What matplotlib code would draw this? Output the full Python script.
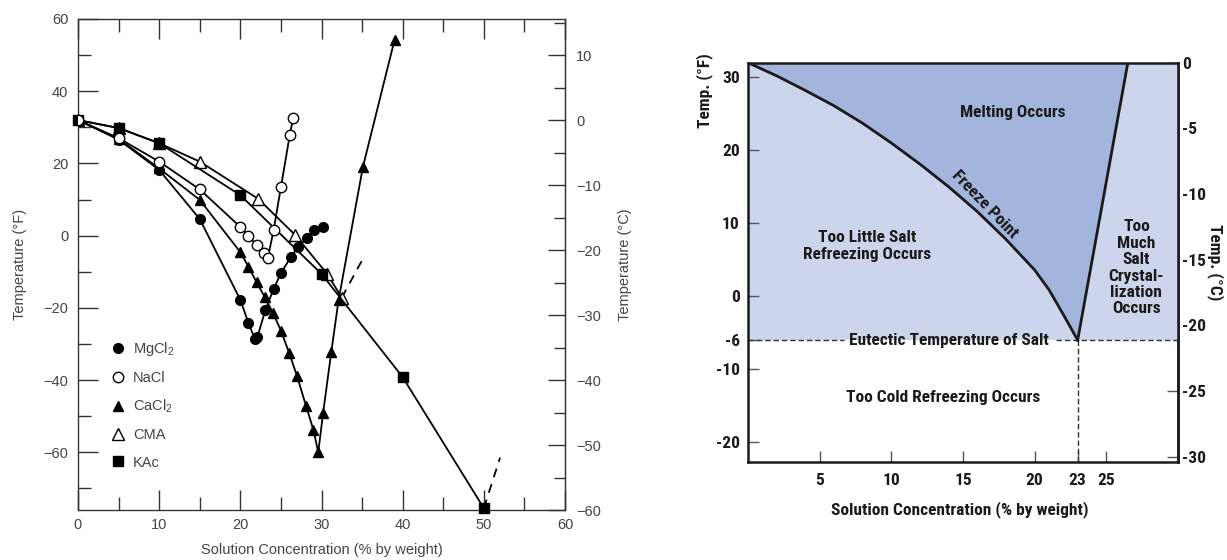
import numpy as np
import matplotlib
matplotlib.use("Agg")
import matplotlib.pyplot as plt
import matplotlib.font_manager as fm
from matplotlib.lines import Line2D
from matplotlib.ticker import MultipleLocator, FixedLocator

plt.rcParams['mathtext.default'] = 'regular'

# ---------------- Left panel data (Temperature in F vs concentration %) ----------------
mgcl2_x = [0, 5, 10, 15, 20, 21, 21.8, 22.1, 23.1, 24.1, 25, 26.2, 27.1, 28.2, 29.1, 30.2]
mgcl2_y = [32, 26.6, 18.2, 4.6, -17.8, -24.2, -28.7, -28.1, -20.5, -14.8, -10.4, -6.0, -3.2, -0.7, 1.6, 2.3]
nacl_x = [0, 5, 10, 15, 20, 21, 22, 22.9, 23.4, 24.1, 25, 26.1, 26.5]
nacl_y = [32, 27.0, 20.5, 12.8, 2.4, 0.0, -2.6, -4.9, -6.1, 1.5, 13.4, 28.0, 32.5]
cacl2_x = [0, 5, 10, 15, 20, 21, 22, 23, 24, 25, 26, 27, 28.1, 29, 29.6, 30.2, 31.2, 32.1, 35.1, 39]
cacl2_y = [32, 26.8, 18.6, 9.9, -4.6, -8.6, -12.9, -17.0, -21.3, -26.3, -32.4, -39.0, -47.2, -53.8, -60,
           -49.1, -32.3, -17.9, 19.0, 54.2]
cma_x = [0, 5, 10, 15, 22.2, 26.7, 30.7, 32.5]
cma_y = [32, 29.8, 25.6, 20.5, 10.2, 0.3, -10.6, -17.2]
kac_x = [0, 5, 10, 20, 30, 40, 50]
kac_y = [32, 29.8, 25.6, 11.2, -10.6, -39.2, -75.5]
cma_ext_x = [32.5, 35.1]
cma_ext_y = [-17.2, -6.4]
kac_ext_x = [50, 52]
kac_ext_y = [-75.5, -61.5]
legend_labels = ['MgCl$_2$', 'NaCl', 'CaCl$_2$', 'CMA', 'KAc']
l_c_major = [10, 0, -10, -20, -30, -40, -50, -60]
l_c_minor = [15, 5, -5, -15, -25, -35, -45, -55]

# ---------------- Right panel data ----------------
freeze_x = [0, 2, 4, 6, 8, 10, 12, 14, 16, 18, 20, 21, 22, 23]
freeze_y = [32, 30.2, 28.2, 26.1, 23.7, 21.0, 18.1, 15.0, 11.6, 7.8, 3.6, 0.9, -2.5, -6]
salt_x = [23, 26.5]
salt_y = [-6, 32]
eutectic_temp = -6
eutectic_conc = 23
r_xticks = [5, 10, 15, 20, 23, 25]
r_yticks_f = [30, 20, 10, 0, -6, -10, -20]
r_yticks_c = [0, -5, -10, -15, -20, -25, -30]


def f2c(f):
    return (np.asarray(f) - 32.0) * 5.0 / 9.0


def c2f(c):
    return np.asarray(c) * 9.0 / 5.0 + 32.0


avail = {f.name for f in fm.fontManager.ttflist}
narrow = next((n for n in ['Liberation Sans Narrow', 'Arial Narrow', 'Roboto Condensed',
                           'Open Sans Condensed', 'Nimbus Sans Narrow'] if n in avail), None)
if narrow:
    bfont = [narrow, 'DejaVu Sans']
    bsize = 12.5
else:
    bfont = ['Liberation Sans', 'DejaVu Sans']
    bsize = 10.8

W, H = 1227, 560
fig = plt.figure(figsize=(W / 100, H / 100), dpi=100)

# ======================= LEFT PANEL =======================
gray = '#444444'
lfont = ['Liberation Sans', 'DejaVu Sans']
ax1 = fig.add_axes([78 / W, 1 - 510 / H, 487 / W, 491 / H])
ax1.set_xlim(0, 60)
ax1.set_ylim(-76, 60)
for s in ax1.spines.values():
    s.set_color('#333333')
    s.set_linewidth(1.0)

lw = 1.3
ax1.plot(cma_x, cma_y, '-', color='k', lw=lw, marker='^', ms=8, mfc='white', mec='k', mew=1.0, zorder=3)
ax1.plot(kac_x, kac_y, '-', color='k', lw=lw, marker='s', ms=6.5, mfc='k', mec='k', zorder=4, clip_on=False)
ax1.plot(cacl2_x, cacl2_y, '-', color='k', lw=lw, marker='^', ms=7, mfc='k', mec='k', zorder=3)
ax1.plot(nacl_x, nacl_y, '-', color='k', lw=lw, marker='o', ms=7.5, mfc='white', mec='k', mew=1.0, zorder=5)
ax1.plot(mgcl2_x, mgcl2_y, '-', color='k', lw=lw, marker='o', ms=7, mfc='k', mec='k', zorder=4)
ax1.plot(cma_ext_x, cma_ext_y, '--', color='k', lw=lw, dashes=(5, 4), zorder=2)
ax1.plot(kac_ext_x, kac_ext_y, '--', color='k', lw=lw, dashes=(5, 4), zorder=2, clip_on=False)

ax1.xaxis.set_major_locator(MultipleLocator(10))
ax1.xaxis.set_minor_locator(MultipleLocator(5))
ax1.yaxis.set_major_locator(MultipleLocator(20))
ax1.yaxis.set_minor_locator(MultipleLocator(10))
ax1.tick_params(which='both', direction='in', top=True, right=False, color='#333333', width=1.0,
                labelcolor=gray, labelsize=10.5)
ax1.tick_params(which='major', length=14.5)
ax1.tick_params(which='minor', length=9.5)
ax1.tick_params(axis='x', pad=6)
ax1.tick_params(axis='y', pad=7)
for t in ax1.get_xticklabels() + ax1.get_yticklabels():
    t.set_family(lfont)

ax1.set_xlabel('Solution Concentration (% by weight)', color=gray, fontsize=10.5, family=lfont)
ax1.xaxis.set_label_coords(0.5, -0.067)
ax1.set_ylabel('Temperature (°F)', color=gray, fontsize=10.5, family=lfont)
ax1.yaxis.set_label_coords(-0.105, 0.5)

sec1 = ax1.secondary_yaxis('right', functions=(f2c, c2f))
sec1.yaxis.set_major_locator(FixedLocator(l_c_major))
sec1.yaxis.set_minor_locator(FixedLocator(l_c_minor))
sec1.tick_params(which='both', direction='in', color='#333333', width=1.0, labelcolor=gray,
                 labelsize=10.5, pad=8)
sec1.tick_params(which='major', length=12)
sec1.tick_params(which='minor', length=8)
sec1.spines['right'].set_color('#333333')
for t in sec1.get_yticklabels():
    t.set_family(lfont)
ax1.text(1.123, 0.5, 'Temperature (°C)', transform=ax1.transAxes, rotation=90, ha='center', va='center',
         color=gray, fontsize=10.5, family=lfont)

handles = [
    Line2D([], [], ls='none', marker='o', ms=7, mfc='k', mec='k'),
    Line2D([], [], ls='none', marker='o', ms=7.5, mfc='white', mec='k'),
    Line2D([], [], ls='none', marker='^', ms=7, mfc='k', mec='k'),
    Line2D([], [], ls='none', marker='^', ms=8, mfc='white', mec='k'),
    Line2D([], [], ls='none', marker='s', ms=6.5, mfc='k', mec='k'),
]
leg = ax1.legend(handles, legend_labels, loc='upper left', bbox_to_anchor=(0.071, 0.347), frameon=False,
                 handlelength=0.8, handletextpad=0.6, labelspacing=0.9, borderpad=0, borderaxespad=0,
                 prop={'family': lfont, 'size': 10.5})
for t in leg.get_texts():
    t.set_color(gray)

# ======================= RIGHT PANEL =======================
light = '#cdd5ec'
dark = '#a3b5dc'
ink = '#1a1a1a'
ax2 = fig.add_axes([748 / W, 1 - 462 / H, 430 / W, 399.3 / H])
ax2.set_xlim(0, 30)
ax2.set_ylim(-22.7, 32)

ax2.fill_between([0, 30], eutectic_temp, 32, color=light, lw=0, zorder=1)
ax2.fill(list(freeze_x) + [salt_x[1]], list(freeze_y) + [salt_y[1]], color=dark, lw=0, zorder=2)
ax2.plot(freeze_x, freeze_y, color=ink, lw=2.0, zorder=4, solid_joinstyle='round')
ax2.plot(salt_x, salt_y, color=ink, lw=2.0, zorder=4)
ax2.plot([eutectic_conc, eutectic_conc], [eutectic_temp, -22.7], color='#333333', lw=1.0,
         ls=(0, (4, 2)), zorder=3)

tk = dict(family=bfont, weight='bold', color=ink)
ax2.text(18.5, 25.2, 'Melting Occurs', ha='center', va='center', zorder=5, fontsize=bsize, **tk)
ax2.text(8.3, 6.9, 'Too Little Salt\nRefreezing Occurs', ha='center', va='center', zorder=5,
         linespacing=1.15, fontsize=bsize, **tk)
ax2.text(16.5, 12.6, 'Freeze Point', ha='center', va='center', rotation=-46, rotation_mode='anchor',
         zorder=5, fontsize=bsize, **tk)
ax2.text(27.1, 3.9, 'Too\nMuch\nSalt\nCrystal-\nlization\nOccurs', ha='center', va='center', zorder=5,
         linespacing=1.12, fontsize=bsize, **tk)
eut_txt = ax2.text(14.0, eutectic_temp, 'Eutectic Temperature of Salt', ha='center', va='center', zorder=5,
                   fontsize=bsize, **tk)
ax2.text(13.6, -13.9, 'Too Cold Refreezing Occurs', ha='center', va='center', zorder=5,
         fontsize=bsize, **tk)

for s in ax2.spines.values():
    s.set_color(ink)
    s.set_linewidth(1.8)
    s.set_zorder(6)

ax2.xaxis.set_major_locator(FixedLocator(r_xticks))
ax2.set_xticklabels([str(v) for v in r_xticks])
ax2.yaxis.set_major_locator(FixedLocator(r_yticks_f))
ax2.set_yticklabels([str(v) for v in r_yticks_f])
ax2.tick_params(direction='in', length=8, width=1.0, color='#555555', labelsize=bsize, right=False, top=False)
ax2.tick_params(axis='x', pad=8)
ax2.tick_params(axis='y', pad=6)
for t in ax2.get_xticklabels() + ax2.get_yticklabels():
    t.set_family(bfont)
    t.set_weight('bold')
    t.set_color(ink)

ax2.set_xlabel('Solution Concentration (% by weight)', fontsize=bsize, **tk)
ax2.xaxis.set_label_coords(0.493, -0.098)
ax2.set_ylabel('Temp. (°F)', fontsize=bsize, **tk)
ax2.yaxis.set_label_coords(-0.081, 0.93)

sec2 = ax2.secondary_yaxis('right', functions=(f2c, c2f))
sec2.set_yticks(r_yticks_c, [str(v) for v in r_yticks_c])
sec2.tick_params(direction='in', length=8, width=1.0, color='#555555', labelsize=bsize, pad=3)
sec2.spines['right'].set_color(ink)
sec2.spines['right'].set_linewidth(1.8)
for t in sec2.get_yticklabels():
    t.set_family(bfont)
    t.set_weight('bold')
    t.set_color(ink)
ax2.text(1.086, 0.5, 'Temp. (°C)', transform=ax2.transAxes, rotation=270, ha='center', va='center',
         fontsize=bsize, **tk)

# eutectic dashed line, interrupted where its label sits
fig.canvas.draw()
bb = eut_txt.get_window_extent().transformed(ax2.transData.inverted())
gap = 0.35
xmin, xmax = ax2.get_xlim()
ax2.plot([xmin, bb.x0 - gap], [eutectic_temp, eutectic_temp], color='#333333', lw=1.0,
         ls=(0, (4, 2)), zorder=3)
ax2.plot([bb.x1 + gap * 1.5, xmax], [eutectic_temp, eutectic_temp], color='#333333', lw=1.0,
         ls=(0, (4, 2)), zorder=3)

fig.savefig('out.png', dpi=100)
